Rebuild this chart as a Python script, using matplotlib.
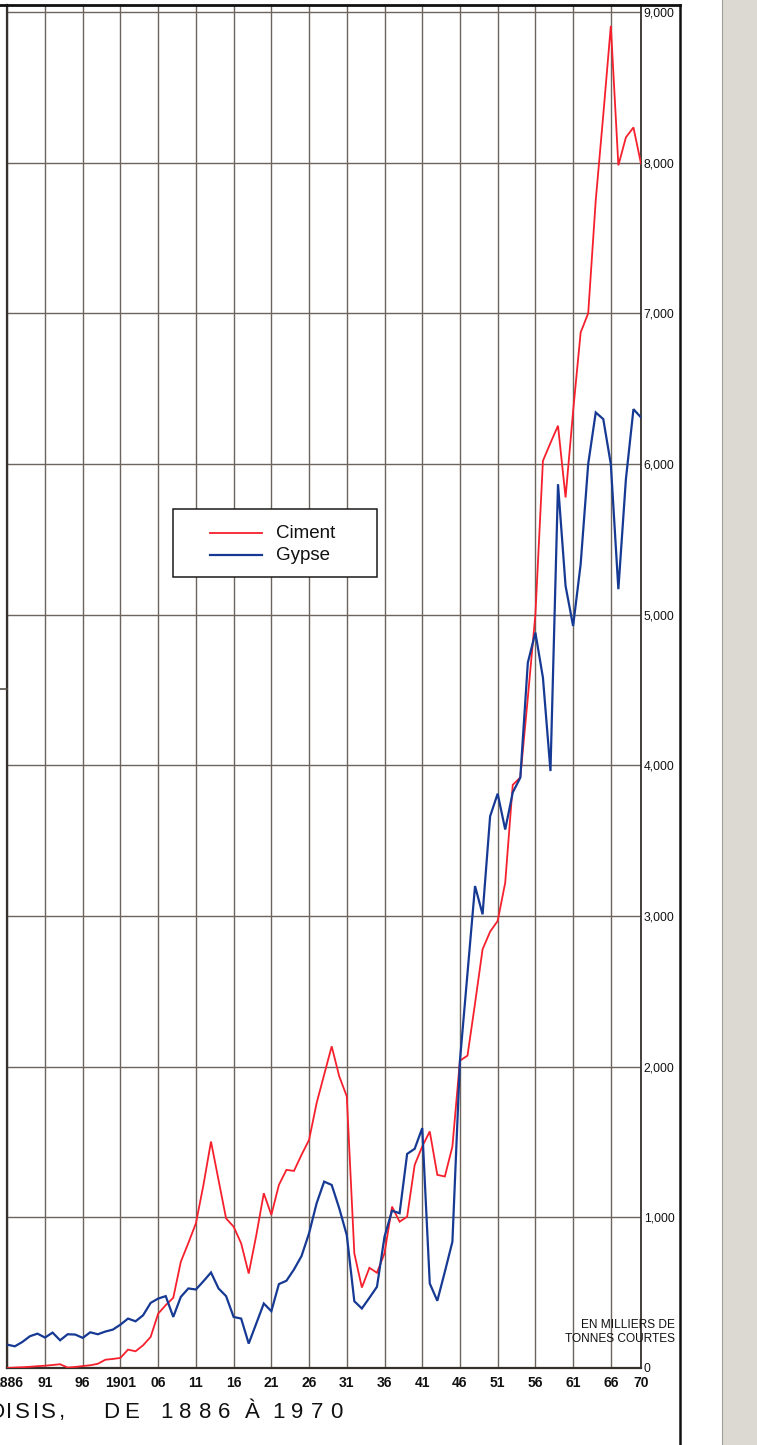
import matplotlib
matplotlib.use("Agg")
import matplotlib.pyplot as plt
from matplotlib.lines import Line2D
from matplotlib.patches import Rectangle

# ---------------- data ----------------
years = list(range(1886, 1971))

ciment = [0, 3, 5, 8, 12, 15, 20, 25, 3, 7,
          13, 18, 28, 55, 60, 67, 122, 111, 151, 206,
          361, 417, 466, 705, 830, 960, 1215, 1503, 1248, 993,
          938, 827, 627, 880, 1160, 1016, 1215, 1315, 1308, 1415,
          1514, 1758, 1947, 2135, 1936, 1803, 761, 534, 665, 632,
          761, 1071, 971, 1004, 1348, 1470, 1570, 1282, 1271, 1470,
          2040, 2073, 2420, 2779, 2896, 2967, 3221, 3870, 3920, 4450,
          5000, 6021, 6140, 6254, 5778, 6350, 6873, 7000, 7750, 8317,
          8908, 7982, 8168, 8234, 7993]

gypse = [155, 144, 173, 211, 228, 202, 235, 184, 224, 222,
         200, 237, 224, 242, 255, 288, 328, 310, 350, 432,
         461, 477, 339, 472, 528, 521, 576, 634, 528, 477,
         339, 328, 162, 295, 428, 377, 557, 579, 654, 743,
         894, 1093, 1237, 1215, 1060, 882, 443, 395, 466, 539,
         871, 1044, 1027, 1421, 1455, 1592, 561, 446, 639, 838,
         2040, 2620, 3199, 3011, 3662, 3812, 3574, 3820, 3918, 4682,
         4881, 4582, 3962, 5866, 5191, 4925, 5335, 6000, 6342, 6298,
         5999, 5169, 5900, 6364, 6309]

x_ticks = [1886, 1891, 1896, 1901, 1906, 1911, 1916, 1921, 1926, 1931,
           1936, 1941, 1946, 1951, 1956, 1961, 1966, 1970]
x_labels = ['1886', '91', '96', '1901', '06', '11', '16', '21', '26', '31',
            '36', '41', '46', '51', '56', '61', '66', '70']
y_ticks = [0, 1000, 2000, 3000, 4000, 5000, 6000, 7000, 8000, 9000]
y_labels = ['0', '1,000', '2,000', '3,000', '4,000', '5,000', '6,000',
            '7,000', '8,000', '9,000']
series_names = ['Ciment', 'Gypse']
unit_text = ['EN MILLIERS DE', 'TONNES COURTES']
title_text = 'OISIS, DE 1886 À 1970'

# ---------------- layout helpers ----------------
W, H = 757, 1445
def fx(px):
    return px / W
def fy(py):
    return 1 - py / H

RED = '#f6202c'
BLUE = '#163a94'
GRID = '#6c655d'
DARK = '#35302b'

fig = plt.figure(figsize=(W / 100, H / 100), dpi=100)
fig.patch.set_facecolor('white')

x_left, x_right = 7.3, 641.0
y_zero, y_top_frame, y_9000 = 1368.0, 4.5, 12.0
ppu = (y_zero - y_9000) / 9000.0
ymax = 9000 + (y_9000 - y_top_frame) / ppu

ax = fig.add_axes([fx(x_left), fy(y_zero), (x_right - x_left) / W,
                   (y_zero - y_top_frame) / H])
ax.set_xlim(1886, 1970)
ax.set_ylim(0, ymax)
ax.set_facecolor('white')

ax.set_xticks(x_ticks)
ax.set_xticklabels(x_labels, fontfamily='Liberation Sans', fontweight='bold',
                   fontsize=10, color='#111111')
ax.yaxis.tick_right()
ax.set_yticks(y_ticks)
ax.set_yticklabels(y_labels, fontfamily='Liberation Sans', fontsize=8.8,
                   color='#111111')
ax.tick_params(axis='x', length=0, pad=6)
ax.tick_params(axis='y', length=0, pad=2)
for lbl in ax.get_yticklabels():
    lbl.set_horizontalalignment('left')

ax.grid(True, color=GRID, lw=1.0)
ax.set_axisbelow(True)

ax.spines['top'].set_visible(False)
for s in ['left', 'bottom']:
    ax.spines[s].set_color(DARK)
    ax.spines[s].set_linewidth(1.6)
ax.spines['right'].set_color(DARK)
ax.spines['right'].set_linewidth(1.3)

ax.plot(years, ciment, color=RED, lw=1.3, zorder=3, solid_joinstyle='miter')
ax.plot(years, gypse, color=BLUE, lw=1.6, zorder=4, solid_joinstyle='miter')

# ---------------- legend (drawn as a box) ----------------
lx0, lx1, ly0, ly1 = 173, 377, 509, 577
fig.add_artist(Rectangle((fx(lx0), fy(ly1)), (lx1 - lx0) / W, (ly1 - ly0) / H,
                         transform=fig.transFigure, facecolor='white',
                         edgecolor='#1a1a1a', lw=1.1, zorder=5))
for name, col, yy in [(series_names[0], RED, 533), (series_names[1], BLUE, 555)]:
    fig.add_artist(Line2D([fx(210), fx(262)], [fy(yy), fy(yy)], color=col,
                          lw=1.6 if col == BLUE else 1.3, zorder=6))
    fig.text(fx(276), fy(yy), name, fontsize=13.5, family='Liberation Sans',
             va='center', ha='left', color='#111111', zorder=7)

# ---------------- unit note ----------------
fig.text(fx(675), fy(1325), unit_text[0], fontsize=8.6, family='Liberation Sans',
         ha='right', va='center', color='#111111')
fig.text(fx(675), fy(1339), unit_text[1], fontsize=8.6, family='Liberation Sans',
         ha='right', va='center', color='#111111')

# ---------------- page frame & paper ----------------
fig.add_artist(Line2D([0, fx(680)], [fy(y_top_frame)] * 2, color='#111111',
                      lw=2.0, zorder=8))
fig.add_artist(Line2D([fx(679.5)] * 2, [fy(y_top_frame), 0], color='#111111',
                      lw=1.8, zorder=8))
fig.add_artist(Line2D([0, fx(x_left)], [fy(689)] * 2, color='#555048',
                      lw=1.2, zorder=8))
fig.add_artist(Rectangle((fx(722), 0), (W - 722) / W, 1,
                         transform=fig.transFigure, facecolor='#dcd8d2',
                         edgecolor='none', zorder=1))
fig.add_artist(Line2D([fx(722)] * 2, [0, 1], color='#a39e98', lw=0.8, zorder=2))

# ---------------- spaced title (cut at left, as on the page) ----------------
title_x = [-3, 9, 22, 36, 48, 62, None, 111, 132, None,
           166, 185, 205, 224, None, 252, None, 278, 297, 317, 336]
for ch, xc in zip(title_text, title_x):
    if ch == ' ' or xc is None:
        continue
    fig.text(fx(xc), fy(1412), ch, fontsize=16, family='Liberation Sans',
             ha='center', va='center', color='#111111')

fig.savefig('out.png', dpi=100, facecolor='white')
